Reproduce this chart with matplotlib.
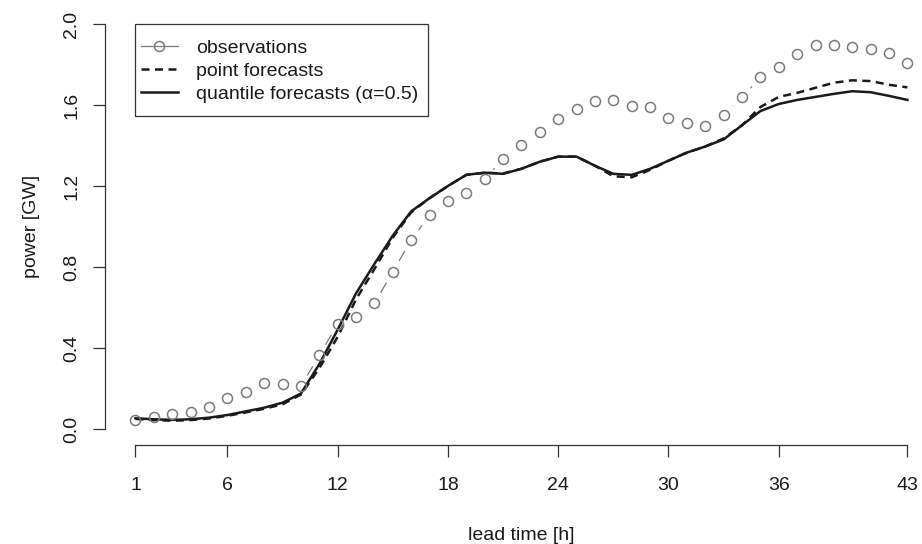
import numpy as np
import matplotlib
matplotlib.use("Agg")
import matplotlib.pyplot as plt
from matplotlib.lines import Line2D
from matplotlib.collections import LineCollection
from matplotlib.patches import Rectangle

plt.rcParams['font.family'] = ['Liberation Sans', 'DejaVu Sans']

# lead times and power series [GW]
hours = np.arange(1, 44)
observations = [0.045, 0.058, 0.073, 0.085, 0.110, 0.152, 0.183, 0.226, 0.222, 0.212,
                0.363, 0.519, 0.555, 0.620, 0.777, 0.933, 1.055, 1.125, 1.163, 1.235,
                1.333, 1.401, 1.467, 1.532, 1.579, 1.621, 1.626, 1.597, 1.589, 1.537,
                1.511, 1.498, 1.552, 1.638, 1.737, 1.789, 1.852, 1.896, 1.898, 1.885,
                1.877, 1.858, 1.807]
point_fc = [0.050, 0.044, 0.041, 0.044, 0.052, 0.065, 0.082, 0.100, 0.122, 0.170,
            0.300, 0.455, 0.640, 0.790, 0.945, 1.070, 1.140, 1.200, 1.255, 1.265,
            1.262, 1.285, 1.320, 1.345, 1.345, 1.300, 1.248, 1.243, 1.280, 1.325,
            1.365, 1.395, 1.435, 1.500, 1.590, 1.640, 1.660, 1.685, 1.710, 1.722,
            1.718, 1.700, 1.687]
quantile_fc = [0.053, 0.048, 0.045, 0.048, 0.056, 0.069, 0.087, 0.105, 0.130, 0.175,
               0.320, 0.490, 0.670, 0.815, 0.955, 1.075, 1.140, 1.200, 1.255, 1.266,
               1.260, 1.285, 1.320, 1.345, 1.345, 1.300, 1.260, 1.255, 1.285, 1.325,
               1.365, 1.395, 1.430, 1.500, 1.570, 1.605, 1.625, 1.640, 1.655, 1.668,
               1.663, 1.645, 1.625]
xticks = [1, 6, 12, 18, 24, 30, 36, 43]
yticks = [0.0, 0.4, 0.8, 1.2, 1.6, 2.0]

W, H = 922, 544
fig = plt.figure(figsize=(W / 100, H / 100), dpi=100)
# plot region in pixels (R style: 4% padding on both axes)
left, right, top, bottom = 104.6, 938.3, 7.8, 445.2
ax = fig.add_axes([left / W, 1 - bottom / H, (right - left) / W, (bottom - top) / H])
ax.set_xlim(-0.68, 44.68)
ax.set_ylim(-0.08, 2.08)

grey = '#7a7a7a'
ink = '#1a1a1a'
lw_fc = 1.8

# observations drawn like R type="b": segments broken around the points
gap = 12.5
pts = ax.transData.transform(np.column_stack([hours, observations]))
segs = []
for p, q in zip(pts[:-1], pts[1:]):
    d = q - p
    L = np.hypot(*d)
    if L > 2 * gap:
        u = d / L
        segs.append(ax.transData.inverted().transform([p + u * gap, q - u * gap]))
ax.add_collection(LineCollection(segs, colors=grey, linewidths=0.9, zorder=1))
ax.plot(hours, observations, ls='none', marker='o', ms=7.2, mfc='none', mec=grey,
        mew=1.1, zorder=3)

ax.plot(hours, point_fc, color=ink, lw=lw_fc, ls=(0, (3.2, 2.2)), zorder=2)
ax.plot(hours, quantile_fc, color=ink, lw=lw_fc, zorder=2)

for s in ['top', 'right']:
    ax.spines[s].set_visible(False)
ax.spines['left'].set_bounds(0, 2)
ax.spines['bottom'].set_bounds(1, 43)
for s in ['left', 'bottom']:
    ax.spines[s].set_color('#333333')
    ax.spines[s].set_linewidth(0.9)

ax.set_xticks(xticks)
ax.set_xticklabels([str(t) for t in xticks])
ax.set_yticks(yticks)
ax.set_yticklabels(['%.1f' % t for t in yticks], rotation=90, va='center')
ax.tick_params(direction='out', length=8.4, width=0.9, color='#333333',
               labelsize=14, labelcolor=ink)
ax.tick_params(axis='x', pad=14.5)
ax.tick_params(axis='y', pad=9)

ax.set_xlabel('lead time [h]', fontsize=14, color=ink)
ax.xaxis.set_label_coords(0.5, -0.186)
ax.set_ylabel('power [GW]', fontsize=14, color=ink)
ax.yaxis.set_label_coords(-0.078, 0.5)

handles = [Line2D([], [], color=grey, lw=0.9, marker='o', ms=7.2, mfc='none', mew=1.1),
           Line2D([], [], color=ink, lw=lw_fc, ls=(0, (3.2, 2.2))),
           Line2D([], [], color=ink, lw=lw_fc)]
labels = ['observations', 'point forecasts', 'quantile forecasts (α=0.5)']
x_per_px = 1 / 18.38
y_per_px = 1 / 202.5
pad_top = 15.5
leg = ax.legend(handles, labels, loc='upper left', frameon=False, fontsize=14,
                bbox_to_anchor=(1 + 5.2 * x_per_px, 2.0 - pad_top * y_per_px),
                bbox_transform=ax.transData, borderpad=0, borderaxespad=0,
                handlelength=1.93, handletextpad=0.9, labelspacing=0.27)
for t in leg.get_texts():
    t.set_color(ink)

# legend box anchored at (1, 2.0), sized around the entries
fig.canvas.draw()
bb = leg.get_window_extent()
x0, y1 = ax.transData.transform((1, 2.0))
frame_px = [(x0, bb.y0 - 13.5), (bb.x1 + 10, y1)]
(fx0, fy0), (fx1, fy1) = fig.transFigure.inverted().transform(frame_px)
fig.add_artist(Rectangle((fx0, fy0), fx1 - fx0, fy1 - fy0, transform=fig.transFigure,
                         fill=False, ec='#333333', lw=0.9))

fig.savefig('out.png', dpi=100)
